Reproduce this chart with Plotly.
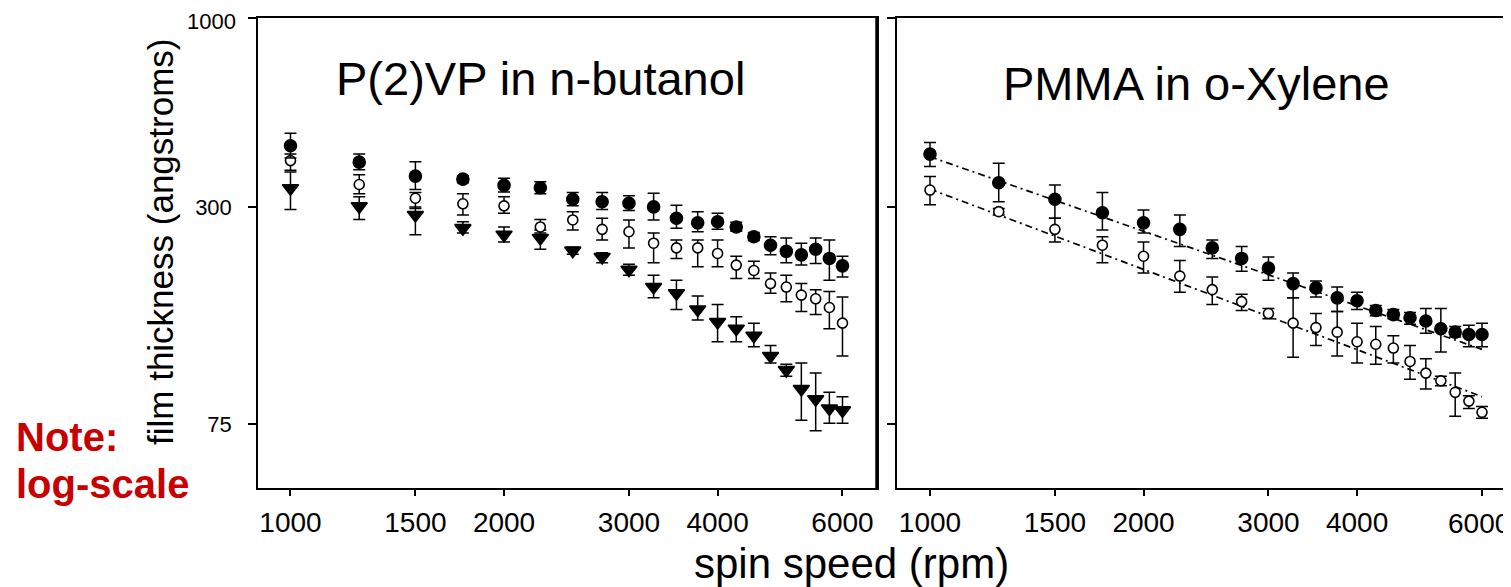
import math
import plotly.graph_objects as go

# ---------------- data ----------------
speeds = [1000, 1250, 1500, 1750, 2000, 2250, 2500, 2750, 3000, 3250, 3500,
          3750, 4000, 4250, 4500, 4750, 5000, 5250, 5500, 5750, 6000]

# P(2)VP in n-butanol
p2vp_filled = [443, 399, 365, 358, 344, 339, 315, 310, 307, 300, 279, 271, 273, 264, 248, 235, 226, 221, 229, 216, 206]
p2vp_filled_hi = [480, 420, 400, 366, 360, 352, 329, 329, 322, 327, 303, 291, 288, 272, 255, 248, 246, 238, 246, 243, 219]
p2vp_filled_lo = [410, 380, 335, 350, 330, 326, 302, 295, 293, 276, 262, 256, 260, 257, 242, 221, 210, 207, 209, 188, 192]

p2vp_open = [403, 346, 317, 306, 302, 264, 276, 260, 256, 238, 231, 231, 223, 207, 200, 184, 180, 171, 167, 158, 143]
p2vp_open_hi = [420, 368, 329, 326, 320, 277, 291, 279, 276, 254, 243, 243, 243, 219, 212, 197, 194, 184, 177, 175, 169]
p2vp_open_lo = [379, 326, 297, 285, 288, 254, 259, 243, 231, 210, 216, 205, 205, 190, 190, 173, 164, 154, 151, 138, 116]

p2vp_tri = [338, 301, 285, 262, 251, 246, 227, 218, 201, 180, 173, 156, 144, 138, 132, 116, 106, 94, 88, 83, 82]
p2vp_tri_hi = [375, 320, 300, 273, 264, 259, 232, 224, 208, 194, 188, 170, 161, 149, 143, 124, 110, 111, 104, 92, 89.5]
p2vp_tri_lo = [295, 277, 251, 254, 240, 229, 222, 210, 194, 168, 156, 146, 127, 127, 123, 111, 102, 77, 72, 75.5, 75.5]

# PMMA in o-Xylene
pmma_filled = [420, 350, 315, 289, 271, 260, 231, 216, 203, 184, 179, 168, 165, 155, 151, 148, 145, 138, 135, 133, 133]
pmma_filled_hi = [452, 396, 345, 329, 294, 285, 243, 233, 218, 197, 187, 180, 174, 160, 156, 153, 157, 157, 140, 141, 143]
pmma_filled_lo = [388, 310, 279, 259, 254, 233, 216, 199, 188, 168, 169, 154, 156, 150, 147, 142, 134, 119, 131, 123, 123]

pmma_open = [334, 291, 260, 235, 219, 193, 177, 164, 152, 143, 139, 135, 127, 125, 122, 112, 104, 99, 92, 87, 81]
pmma_open_hi = [364, 297, 279, 248, 240, 213, 192, 172, 157, 168, 152, 154, 143, 140, 132, 124, 114, 102, 104, 90, 84]
pmma_open_lo = [304, 285, 240, 210, 197, 174, 161, 155, 147, 115, 124, 116, 111, 110, 111, 100, 94, 96, 79, 83, 78]

# dash-dot fit lines (end points)
fit_x = [1000, 6000]
fit_pmma_filled = [413, 121]
fit_pmma_open = [336, 89.5]

x_tickvals = [1000, 1500, 2000, 3000, 4000, 6000]
x_ticktext = ["1000", "1500", "2000", "3000", "4000", "6000"]
y_tickvals = [75, 300, 1000]
y_ticktext = ["75", "300", "1000"]

# ---------------- figure ----------------
OFF = 8                      # page body margin
W, H = 1511 - OFF, 587 - OFF
FONT = "Liberation Sans, Arial, sans-serif"

def fx(p):
    return (p - OFF) / W

def fy(p):
    return 1 - (p - OFF) / H

fig = go.Figure()

def add_series(y, hi, lo, xa, ya, symbol, fill, size):
    fig.add_trace(go.Scatter(
        x=speeds, y=y, mode="markers", xaxis=xa, yaxis=ya, showlegend=False,
        marker=dict(symbol=symbol, size=size, color=fill,
                    line=dict(color="black", width=1.6)),
        error_y=dict(type="data", symmetric=False,
                     array=[h - v for h, v in zip(hi, y)],
                     arrayminus=[v - l for v, l in zip(y, lo)],
                     color="black", thickness=1.5, width=6),
    ))

# fit lines (right panel)
for vals in (fit_pmma_filled, fit_pmma_open):
    fig.add_trace(go.Scatter(
        x=fit_x, y=vals, mode="lines", xaxis="x2", yaxis="y2", showlegend=False,
        line=dict(color="black", width=1.7, dash="7px,4px,2px,4px"),
    ))

add_series(p2vp_tri, p2vp_tri_hi, p2vp_tri_lo, "x", "y", "triangle-down", "black", 14)
add_series(p2vp_open, p2vp_open_hi, p2vp_open_lo, "x", "y", "circle", "white", 10)
add_series(p2vp_filled, p2vp_filled_hi, p2vp_filled_lo, "x", "y", "circle", "black", 12)
add_series(pmma_open, pmma_open_hi, pmma_open_lo, "x2", "y2", "circle", "white", 10)
add_series(pmma_filled, pmma_filled_hi, pmma_filled_lo, "x2", "y2", "circle", "black", 12)

XFONT = dict(family=FONT, size=28, color="black")
YFONT = dict(family=FONT, size=22, color="black")

xcommon = dict(type="log", showgrid=False, zeroline=False, showline=True,
               linecolor="black", linewidth=2, mirror=True, ticks="outside",
               ticklen=6, tickwidth=1.5, tickcolor="black",
               tickvals=x_tickvals, tickfont=XFONT, ticklabelstandoff=2)
ycommon = dict(type="log", range=[math.log10(50), 3], domain=[fy(488), fy(18)],
               showgrid=False, zeroline=False, showline=True,
               linecolor="black", linewidth=1.5, mirror=True, ticks="outside",
               ticklen=8, tickwidth=1.5, tickcolor="black",
               tickvals=y_tickvals, tickfont=YFONT, ticklabelstandoff=12)

# labels sitting at the very edge of the page are written as annotations
x2_ticktext = x_ticktext[:-1] + [""]
y_ticktext_axis = [t if v != 1000 else "" for t, v in zip(y_ticktext, y_tickvals)]

fig.update_layout(
    width=W, height=H, margin=dict(l=0, r=0, t=0, b=0),
    paper_bgcolor="white", plot_bgcolor="white",
    xaxis=dict(xcommon, domain=[fx(258), fx(877)], range=[2.9542, 3.8268],
               anchor="y", ticktext=x_ticktext),
    xaxis2=dict(xcommon, domain=[fx(897), fx(1508)], range=[2.9535, 3.8148],
                anchor="y2", ticktext=x2_ticktext),
    yaxis=dict(ycommon, anchor="x", ticktext=y_ticktext_axis),
    yaxis2=dict(ycommon, anchor="x2", showticklabels=False),
)

# edge tick labels
fig.add_annotation(text=x_ticktext[-1], xref="paper", yref="paper",
                   x=1, y=fy(523), xanchor="right", yanchor="middle",
                   showarrow=False, font=XFONT, borderpad=0)
fig.add_annotation(text=y_ticktext[-1], xref="paper", yref="paper",
                   x=fx(237), y=1, xanchor="right", yanchor="top",
                   showarrow=False, font=YFONT, borderpad=0)

# thick right edges of each panel
for xa, ya in (("x", "y"), ("x2", "y2")):
    fig.add_shape(type="line", xref=f"{xa} domain", yref=f"{ya} domain",
                  x0=1, x1=1, y0=0, y1=1, line=dict(color="black", width=3.5))

ann = [
    dict(text="P(2)VP in n-butanol", x=fx(540), y=fy(78), font=dict(family=FONT, size=47, color="black")),
    dict(text="PMMA in o-Xylene", x=fx(1196), y=fy(84), font=dict(family=FONT, size=47, color="black")),
    dict(text="spin speed (rpm)", x=fx(851), y=fy(563), font=dict(family=FONT, size=42, color="black")),
]
for a in ann:
    fig.add_annotation(xref="paper", yref="paper", xanchor="center", yanchor="middle",
                       showarrow=False, **a)

fig.add_annotation(text="film thickness (angstroms)", xref="paper", yref="paper",
                   x=fx(160), y=fy(242), xanchor="center", yanchor="middle",
                   textangle=-90, showarrow=False,
                   font=dict(family=FONT, size=35, color="black"))

fig.add_annotation(text="<b>Note:</b>", xref="paper", yref="paper",
                   x=fx(14), y=fy(437), xanchor="left", yanchor="middle",
                   showarrow=False, font=dict(family=FONT, size=40, color="#C80000"))
fig.add_annotation(text="<b>log-scale</b>", xref="paper", yref="paper",
                   x=fx(14), y=fy(484), xanchor="left", yanchor="middle",
                   showarrow=False, font=dict(family=FONT, size=40, color="#C80000"))

fig.write_html("out.html")
